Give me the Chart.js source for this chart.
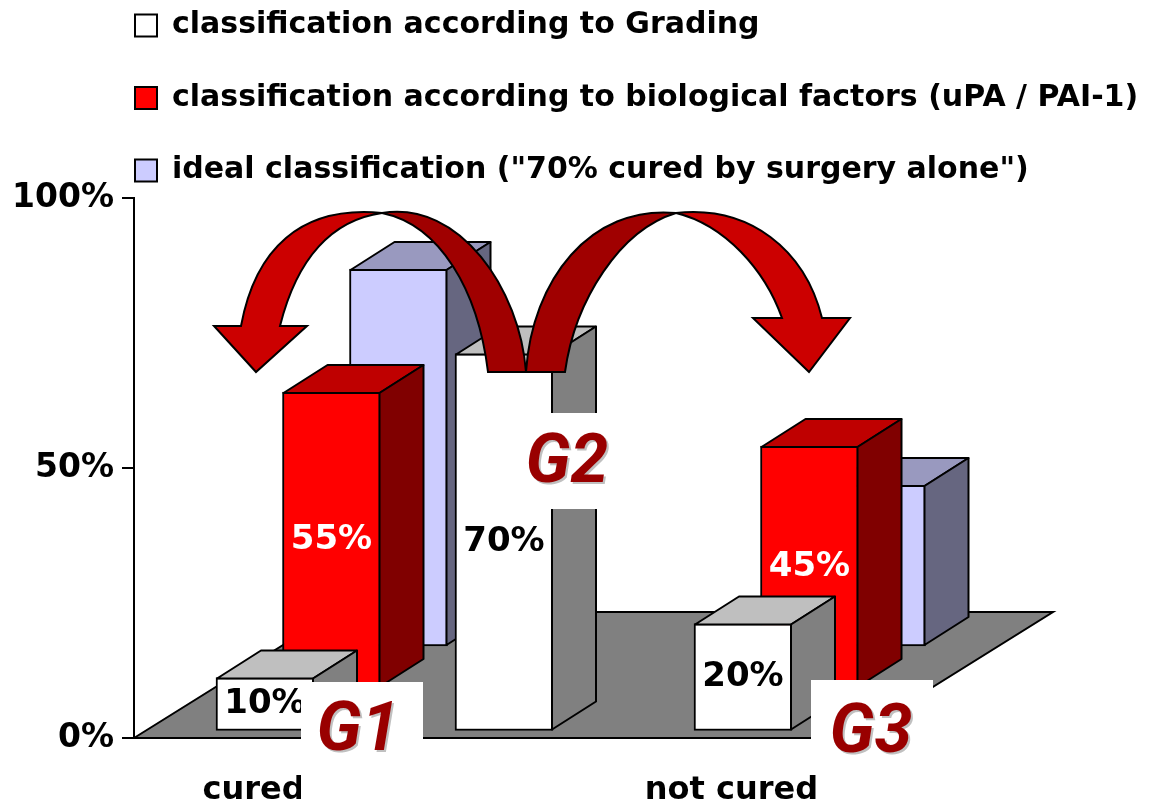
<!DOCTYPE html>
<html>
<head>
<meta charset="utf-8">
<style>
  html, body { margin: 0; padding: 0; background: #fff; }
  canvas { display: block; }
</style>
<script src="https://cdn.jsdelivr.net/npm/chart.js@4"></script>
</head>
<body>
<canvas id="chart" width="1162" height="803"></canvas>
<script>
const categories = ['cured', '', 'not cured']
const gradingValues = [10, 70, 20]
const biologicalValues = [55, null, 45]
const idealValues = [70, null, 30]
const yTicks = [0, 50, 100]

const gradingLabel = 'classification according to Grading'
const biologicalLabel = 'classification according to biological factors (uPA / PAI-1)'
const idealLabel = 'ideal classification ("70% cured by surgery alone")'

const FONT = '"DejaVu Sans", sans-serif'

// every series is a row further back on the floor
const rowShift = [[11.5, -6.5], [78, -49], [145, -91]]
const rowTop = ['#bfbfbf', '#bf0000', '#9999bf']
const rowSide = ['#808080', '#800000', '#666680']
const rowText = ['#000', '#fff', null]
const depth = [44, -28]

// the two bent arrows, dark half then bright half
const arrowParts = [
  ['#a00000', 'M382 213 C460 200 520 290 526 372 L488 372 C478 290 440 225 382 213 Z'],
  ['#cc0000', 'M382 213 C300 205 255 250 241 326 L214 326 L256 372 L307 326 L280 326 C297 258 332 220 382 213 Z'],
  ['#a00000', 'M676 213 C590 205 532 280 526 372 L565 372 C575 300 620 230 676 213 Z'],
  ['#cc0000', 'M676 213 C750 205 805 250 822 318 L850 318 L809 372 L753 318 L782 318 C765 270 725 225 676 213 Z'],
]

const gradeMarks = [
  { text: 'G1', box: [301, 682, 122, 121], x: 358, y: 733 },
  { text: 'G2', box: [515, 413, 110, 96], x: 567, y: 465 },
  { text: 'G3', box: [811, 680, 122, 91], x: 871, y: 735 },
]

const bars3d = {
  id: 'bars3d',
  beforeDatasetsDraw(chart) {
    // grey floor under the bars
    const { left, right, bottom } = chart.chartArea
    const ctx = chart.ctx
    ctx.save()
    ctx.beginPath()
    ctx.moveTo(left, bottom)
    ctx.lineTo(left + 202, bottom - 126)
    ctx.lineTo(right + 202, bottom - 126)
    ctx.lineTo(right, bottom)
    ctx.closePath()
    ctx.fillStyle = '#808080'
    ctx.fill()
    ctx.lineWidth = 2
    ctx.strokeStyle = '#000'
    ctx.stroke()
    ctx.restore()
  },
  beforeDatasetDraw(chart, args) {
    const s = rowShift[args.index]
    chart.ctx.save()
    chart.ctx.translate(s[0], s[1])
  },
  afterDatasetDraw(chart, args) {
    const ctx = chart.ctx
    const i = args.index
    ctx.lineWidth = 2
    ctx.strokeStyle = '#000'
    ctx.lineJoin = 'round'
    args.meta.data.forEach((bar, k) => {
      if (chart.data.datasets[i].data[k] === null) return
      const x0 = bar.x - bar.width / 2 + 1
      const x1 = bar.x + bar.width / 2 - 1
      const y0 = bar.y + 1
      const y1 = bar.base - 1
      face(ctx, rowTop[i], [[x0, y0], [x1, y0], [x1 + depth[0], y0 + depth[1]], [x0 + depth[0], y0 + depth[1]]])
      face(ctx, rowSide[i], [[x1, y0], [x1 + depth[0], y0 + depth[1]], [x1 + depth[0], y1 + depth[1]], [x1, y1]])
    })
    ctx.restore()
  },
  afterDatasetsDraw(chart) {
    const ctx = chart.ctx
    ctx.save()
    // percent labels on the front faces
    ctx.textAlign = 'center'
    ctx.textBaseline = 'middle'
    ctx.font = 'bold 34px ' + FONT
    chart.data.datasets.forEach((ds, i) => {
      if (!rowText[i]) return
      ctx.fillStyle = rowText[i]
      chart.getDatasetMeta(i).data.forEach((bar, k) => {
        if (ds.data[k] === null) return
        const x = bar.x + rowShift[i][0]
        const y = (bar.y + bar.base) / 2 + rowShift[i][1]
        ctx.fillText(ds.data[k] + '%', x, y)
      })
    })
    // arrows
    ctx.lineWidth = 2
    ctx.strokeStyle = '#000'
    ctx.lineJoin = 'miter'
    arrowParts.forEach(p => {
      const path = new Path2D(p[1])
      ctx.fillStyle = p[0]
      ctx.fill(path)
      ctx.stroke(path)
    })
    // G1 G2 G3 sit on white boxes
    ctx.font = 'italic bold 68px Roboto, ' + FONT
    gradeMarks.forEach(m => {
      ctx.fillStyle = '#fff'
      ctx.fillRect(m.box[0], m.box[1], m.box[2], m.box[3])
      ctx.fillStyle = '#c0c0c0'
      ctx.fillText(m.text, m.x + 2, m.y + 2)
      ctx.fillStyle = '#990000'
      ctx.fillText(m.text, m.x, m.y)
    })
    ctx.restore()
  },
  afterLayout(chart) {
    // legend lives above the plot, the legend clips to its own box
    const legend = chart.legend
    legend.left = 92.5
    legend.right = 1162
    legend.top = -32
    legend.bottom = 400
  },
}

function face(ctx, color, pts) {
  ctx.beginPath()
  pts.forEach((p, i) => i ? ctx.lineTo(p[0], p[1]) : ctx.moveTo(p[0], p[1]))
  ctx.closePath()
  ctx.fillStyle = color
  ctx.fill()
  ctx.stroke()
}

function series(label, data, color) {
  return {
    label: label,
    data: data,
    backgroundColor: color,
    borderColor: '#000',
    borderWidth: 2,
    borderSkipped: false,
    barThickness: 98,
    grouped: false,
    clip: false,
  }
}

new Chart(document.getElementById('chart'), {
  type: 'bar',
  data: {
    labels: categories,
    datasets: [
      series(gradingLabel, gradingValues, '#ffffff'),
      series(biologicalLabel, biologicalValues, '#ff0000'),
      series(idealLabel, idealValues, '#ccccff'),
    ],
  },
  plugins: [bars3d],
  options: {
    responsive: false,
    animation: false,
    layout: { padding: { top: 198, right: 311, bottom: 0, left: 0 } },
    plugins: {
      tooltip: { enabled: false },
      legend: {
        position: 'chartArea',
        align: 'start',
        labels: {
          boxWidth: 22,
          boxHeight: 22,
          padding: 42.5,
          color: '#000',
          font: { family: FONT, weight: 'bold', size: 30 },
        },
      },
    },
    scales: {
      x: {
        afterFit(scale) { scale.height = 65 },
        grid: { display: false },
        border: { display: false },
        ticks: {
          color: '#000',
          padding: 25,
          maxRotation: 0,
          autoSkip: false,
          font: { family: FONT, weight: 'bold', size: 32 },
        },
      },
      y: {
        min: 0,
        max: 100,
        afterFit(scale) { scale.width = 134 },
        afterBuildTicks(scale) { scale.ticks = yTicks.map(v => ({ value: v })) },
        grid: { drawOnChartArea: false, color: '#000', lineWidth: 2, tickLength: 12, tickColor: '#000' },
        border: { color: '#000', width: 2 },
        ticks: {
          color: '#000',
          padding: 8,
          callback: v => v + '%',
          font: { family: FONT, weight: 'bold', size: 33 },
        },
      },
    },
  },
})
</script>
</body>
</html>
